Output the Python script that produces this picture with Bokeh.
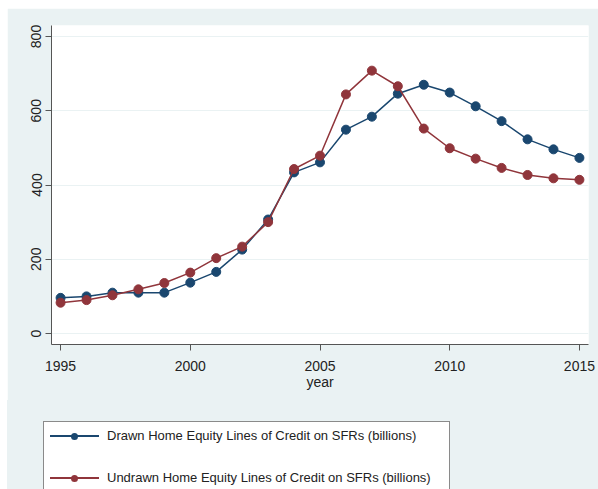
from bokeh.plotting import figure
from bokeh.models import Range1d, FixedTicker, ColumnDataSource, Spacer, Div
from bokeh.layouts import column, row
from bokeh.embed import file_html
from bokeh.resources import INLINE

years = [1995, 1996, 1997, 1998, 1999, 2000, 2001, 2002, 2003, 2004, 2005,
         2006, 2007, 2008, 2009, 2010, 2011, 2012, 2013, 2014, 2015]
drawn = [96, 100, 110, 110, 110, 137, 166, 226, 307, 434, 461,
         549, 584, 646, 670, 649, 612, 572, 523, 496, 473]
undrawn = [83, 90, 103, 119, 136, 164, 203, 234, 300, 443, 479,
           644, 708, 666, 552, 499, 471, 446, 427, 418, 414]
label_drawn = "Drawn Home Equity Lines of Credit on SFRs (billions)"
label_undrawn = "Undrawn Home Equity Lines of Credit on SFRs (billions)"
x_ticks = [1995, 2000, 2005, 2010, 2015]
y_ticks = [0, 200, 400, 600, 800]

BLUE = "#1a476f"
RED = "#90353b"
BG = "#eaf2f3"
FONT = "Liberation Sans"

src = ColumnDataSource(dict(year=years, drawn=drawn, undrawn=undrawn))

# ---- main chart ----
p = figure(width=591, height=392, output_backend="svg", toolbar_location=None,
           x_range=Range1d(1994.65, 2015.35), y_range=Range1d(-29.6, 829.6),
           min_border_left=44, min_border_right=10, min_border_top=17,
           min_border_bottom=56)
p.border_fill_color = BG
p.background_fill_color = "white"
p.outline_line_color = None

p.line("year", "drawn", source=src, line_color=BLUE, line_width=1.5)
p.scatter("year", "drawn", source=src, size=9, fill_color=BLUE, line_color=BLUE)
p.line("year", "undrawn", source=src, line_color=RED, line_width=1.5)
p.scatter("year", "undrawn", source=src, size=9, fill_color=RED, line_color=RED)

p.xgrid.visible = False
p.ygrid.ticker = FixedTicker(ticks=y_ticks)
p.ygrid.grid_line_color = BG
p.ygrid.grid_line_width = 1.2

for ax in (p.xaxis[0], p.yaxis[0]):
    ax.axis_line_color = "#555555"
    ax.major_tick_line_color = "#555555"
    ax.minor_tick_line_color = None
    ax.major_tick_out = 6
    ax.major_tick_in = 0
    ax.major_label_text_font = FONT
    ax.major_label_text_font_size = "14px"
    ax.major_label_text_color = "#222222"

p.xaxis.ticker = FixedTicker(ticks=x_ticks)
p.xaxis.major_label_standoff = 10
p.xaxis.axis_label = "year"
p.xaxis.axis_label_text_font = FONT
p.xaxis.axis_label_text_font_size = "14px"
p.xaxis.axis_label_text_font_style = "normal"
p.xaxis.axis_label_text_color = "#222222"
p.xaxis.axis_label_standoff = 0

p.yaxis.ticker = FixedTicker(ticks=y_ticks)
p.yaxis.major_label_orientation = "vertical"
p.yaxis.major_label_standoff = 4

# ---- legend strip (bottom, clipped like the original) ----
def key_item(color, label, top):
    return (
        f'<div style="position:absolute;left:6px;top:{top}px;width:49px;height:1.5px;'
        f'margin-top:-0.75px;background:{color};"></div>'
        f'<div style="position:absolute;left:{30 - 3.5}px;top:{top - 3.5}px;width:7px;height:7px;'
        f'border-radius:50%;background:{color};"></div>'
        f'<div style="position:absolute;left:63px;top:{top - 9}px;height:18px;line-height:18px;'
        f'white-space:nowrap;font-family:\'{FONT}\';font-size:13px;color:#222222;">{label}</div>'
    )

legend_html = (
    f'<div style="position:relative;width:591px;height:89px;overflow:hidden;background:{BG};">'
    f'<div style="position:absolute;left:36px;top:21px;width:407px;height:90px;'
    f'box-sizing:border-box;background:white;border:1px solid #8a8a8a;">'
    + key_item(BLUE, label_drawn, 14)
    + key_item(RED, label_undrawn, 56)
    + '</div></div>'
)
legend_div = Div(text=legend_html, width=591, height=89,
                 styles={"margin": "0", "padding": "0", "overflow": "hidden",
                         "background-color": BG})

layout = column(Spacer(height=8, width=598),
                row(Spacer(width=7, height=481),
                    column(p, legend_div, spacing=0), spacing=0),
                spacing=0)
open("out.html", "w").write(file_html(layout, INLINE))
